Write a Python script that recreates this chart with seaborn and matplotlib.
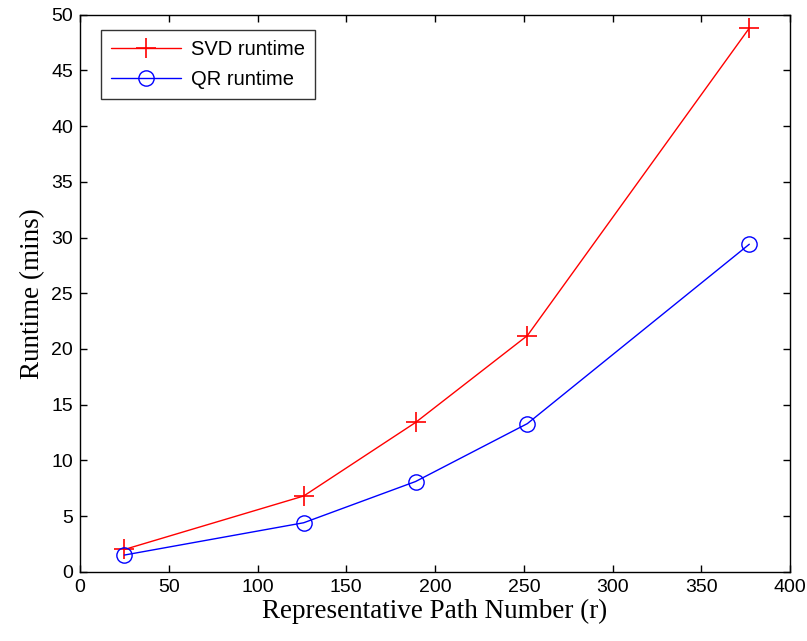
import matplotlib
matplotlib.use("Agg")
import matplotlib.pyplot as plt
import seaborn as sns
import pandas as pd

path_numbers = [25, 126, 189, 252, 377]
svd_runtime = [2.0, 6.8, 13.4, 21.2, 48.8]
qr_runtime = [1.5, 4.4, 8.1, 13.3, 29.4]
x_ticks = [0, 50, 100, 150, 200, 250, 300, 350, 400]
y_ticks = [0, 5, 10, 15, 20, 25, 30, 35, 40, 45, 50]

sns.set_style("ticks")
plt.rcParams['font.family'] = ['Liberation Sans', 'DejaVu Sans']
plt.rcParams['text.color'] = 'black'
plt.rcParams['axes.labelcolor'] = 'black'

df_svd = pd.DataFrame({"r": path_numbers, "t": svd_runtime})
df_qr = pd.DataFrame({"r": path_numbers, "t": qr_runtime})

fig = plt.figure(figsize=(8.07, 6.41), dpi=100)
ax = fig.add_axes([0.0991, 0.108, 0.880, 0.869])

sns.lineplot(data=df_svd, x="r", y="t", ax=ax, color="#ff0000", marker="+",
             markersize=14, markeredgewidth=1.2, markeredgecolor="#ff0000",
             linewidth=1.0, label="SVD runtime")
sns.lineplot(data=df_qr, x="r", y="t", ax=ax, color="#0000ff", marker="o",
             markersize=11, markerfacecolor="none", markeredgecolor="#0000ff",
             markeredgewidth=1.0, linewidth=1.0, label="QR runtime")

ax.set_xlim(0, 400)
ax.set_ylim(0, 50)
ax.set_xticks(x_ticks)
ax.set_yticks(y_ticks)
ax.tick_params(direction="in", top=True, right=True, length=5, width=1,
               labelsize=14, colors="black", pad=5)
for s in ax.spines.values():
    s.set_visible(True)
    s.set_color("black")
    s.set_linewidth(1.0)

ax.set_xlabel("Representative Path Number (r)", fontsize=19.5, color="black",
              family=['Liberation Serif', 'DejaVu Serif'], labelpad=2)
ax.set_ylabel("Runtime (mins)", fontsize=19.5, color="black",
              family=['Liberation Serif', 'DejaVu Serif'], labelpad=4)

leg = ax.legend(loc="upper left", bbox_to_anchor=(0.029, 0.973), fontsize=14.5,
                frameon=True, fancybox=False, edgecolor="black",
                handlelength=3.5, borderpad=0.5, labelspacing=0.55,
                handletextpad=0.5, borderaxespad=0.0)
leg.get_frame().set_linewidth(1.0)
for t in leg.get_texts():
    t.set_color("black")

fig.savefig("out.png", dpi=100)
